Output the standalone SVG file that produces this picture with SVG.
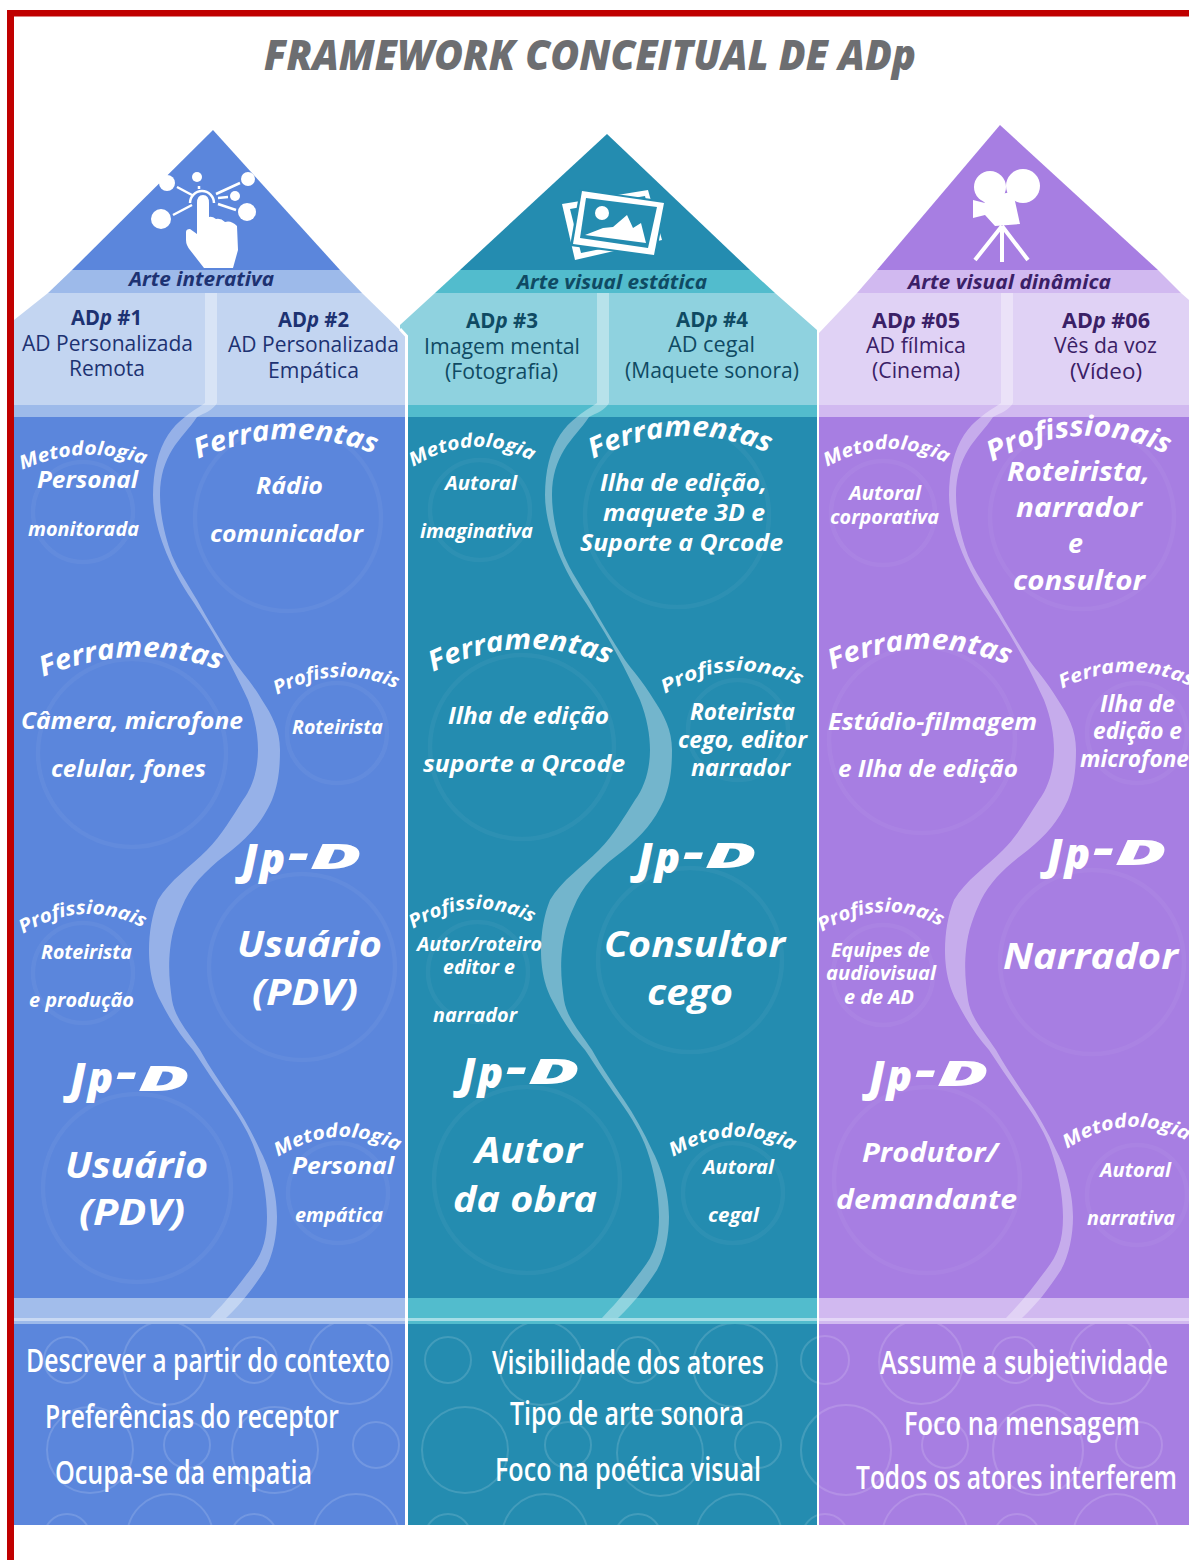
<svg xmlns="http://www.w3.org/2000/svg" width="1189" height="1560" viewBox="0 0 1189 1560">
<style>
text{font-family:"Open Sans","Noto Sans",sans-serif}
.b{font-weight:700;font-style:italic;fill:#fff}
.h{font-weight:400;font-size:21px}
.t{font-weight:700;font-size:21px}
.bar{font-weight:700;font-style:italic;font-size:19px}
.n1{fill:#1d3272}.n2{fill:#0f4a63}.n3{fill:#3a2066}
.f{font-weight:600;fill:#fff;font-size:33px}
.s19{font-size:19px}.s23{font-size:23px}.s26{font-size:26px}.s36{font-size:36px}
.abig{font-size:28px}.asm{font-size:19px}
.jp{font-size:42px;font-weight:800}.jd{font-size:36px}
.ring{fill:none;stroke:#fff;stroke-opacity:.045;stroke-width:4.5}
.rib{fill:#fff;fill-opacity:.36}
.bub{fill:none;stroke:#fff;stroke-opacity:.14;stroke-width:2}
.wl{stroke:#fff;stroke-width:3;fill:none}
</style>
<defs>
<path id="ribbon" d="M205 293L205 403C190 413 178 420 168 435C158 450 153 472 153 495C153 525 168 565 192 600C205 620 225 650 248 700C255 718 258 735 258 750C258 770 252 788 243 800C232 817 222 835 207 850C190 867 170 880 158 900C152 915 149 932 149 950C149 975 155 990 160 1000C170 1020 180 1035 193 1050C205 1068 215 1083 227 1100C240 1118 250 1135 255 1150C262 1170 267 1195 267 1217C267 1240 262 1255 250 1270C240 1283 232 1295 210 1318L226 1318C240 1305 252 1290 265 1270C273 1255 277 1235 277 1217C277 1190 268 1165 260 1150C252 1132 242 1115 232 1100C220 1082 210 1068 200 1050C188 1032 175 1018 172 1000C170 985 168 970 170 950C172 930 178 915 185 900C195 880 212 865 232 850C250 835 262 822 272 800C278 785 280 770 280 750C280 730 272 715 262 700C250 680 240 670 233 660C220 640 208 620 197 600C185 580 175 565 170 550C165 535 160 515 160 495C160 475 165 462 172 450C180 437 190 428 197 417C205 413 213 410 217 403L217 293Z"/>
<clipPath id="bubClip"><rect x="14" y="1324" width="1175" height="201"/></clipPath>
<path id="a1" d="M198 459Q287 421.500 375 454"/>
<path id="a2" d="M43 677Q132 640.500 220 670"/>
<path id="a3" d="M593 459Q682 415.500 770 454"/>
<path id="a4" d="M433 672Q522 629.500 610 665"/>
<path id="a5" d="M992 462Q1080 413.500 1168 455"/>
<path id="a6" d="M832 670Q920 630.500 1008 665"/>
<path id="a7" d="M22 470Q84 442.500 145 465"/>
<path id="a8" d="M277 695Q337 662 397 689"/>
<path id="a9" d="M23 934Q84 896.500 145 929"/>
<path id="a10" d="M278 1157Q338 1119.500 399 1152"/>
<path id="a11" d="M413 467Q474 429.500 534 462"/>
<path id="a12" d="M665 694Q734 651.500 803 687"/>
<path id="a13" d="M413 929Q474 891.500 534 924"/>
<path id="a14" d="M673 1157Q734 1119.500 795 1152"/>
<path id="a15" d="M827 467Q888 432.500 948 464"/>
<path id="a16" d="M1062 689Q1127 656 1192 687"/>
<path id="a17" d="M822 932Q882 894.500 942 927"/>
<path id="a18" d="M1067 1149Q1128 1108.500 1189 1142"/>
</defs>
<rect width="1189" height="1560" fill="#fff"/>
<g id="moldura"><rect x="7" y="10" width="7" height="1550" fill="#c00000"/><rect x="7" y="10" width="1182" height="6.500" fill="#c00000"/></g>
<text id="titulo" x="264" y="70" font-size="42" font-weight="800" font-style="italic" fill="#6d6e71" textLength="652" lengthAdjust="spacingAndGlyphs">FRAMEWORK CONCEITUAL DE ADp</text>

<g id="coluna-1">
<polygon points="48,293 362,293 405,335 405,405 14,405 14,320" fill="#c3d5f1"/>
<polygon points="72,270 340,270 362,293 48,293" fill="#9dbaea"/>
<polygon points="213,130 72,270 340,270" fill="#5b86dc"/>
<rect x="14" y="405" width="391" height="12" fill="#9dbaea"/>
<rect x="14" y="417" width="391" height="881" fill="#5b86dc"/>
<rect x="14" y="1298" width="391" height="20" fill="#a2bdeb"/>
<rect x="14" y="1318" width="391" height="3" fill="#c9d9f3"/>
<rect x="14" y="1321" width="391" height="3" fill="#9dbaea"/>
<rect x="14" y="1324" width="391" height="201" fill="#5b86dc"/>
<use href="#ribbon" class="rib"/>
<g id="icone-interativa" fill="#fff">
<circle cx="167" cy="183" r="8"/><circle cx="197" cy="177" r="5"/><circle cx="248" cy="179" r="7"/><circle cx="235" cy="196" r="5"/><circle cx="161" cy="219" r="10"/><circle cx="247" cy="212" r="9"/>
<path d="M177 187L192 195M199 186L199 189M216 194L240 183M218 198L228 197M218 204L236 210M173 215L192 205M190 203A12 12 0 0 1 214 203" stroke="#fff" stroke-width="2.500" fill="none"/>
<path d="M197 203Q197 195 203 195Q209 195 209 203L209 217Q212 216 216 219Q221 218 225 222Q231 220 237 226L238 250L233 268L204 268L190 250Q186 245 186 240L186 232Q186 229 190 229L197 234Z"/>
</g>
<g id="c1-cabecalho">
<text class="bar n1" x="129" y="286" textLength="145" lengthAdjust="spacingAndGlyphs">Arte interativa</text>
<text class="t n1" x="71" y="325" textLength="71" lengthAdjust="spacingAndGlyphs">AD<tspan font-style="italic">p</tspan> #1</text>
<text class="h n1" x="22" y="351" textLength="171" lengthAdjust="spacingAndGlyphs">AD Personalizada</text>
<text class="h n1" x="69" y="376" textLength="76" lengthAdjust="spacingAndGlyphs">Remota</text>
<text class="t n1" x="278" y="327" textLength="71" lengthAdjust="spacingAndGlyphs">AD<tspan font-style="italic">p</tspan> #2</text>
<text class="h n1" x="228" y="352" textLength="171" lengthAdjust="spacingAndGlyphs">AD Personalizada</text>
<text class="h n1" x="268" y="378" textLength="91" lengthAdjust="spacingAndGlyphs">Empática</text>
</g>
<g id="c1-metodologia-a"><circle class="ring" cx="83" cy="512" r="50"/>
<text class="b asm"><textPath href="#a7" textLength="126" lengthAdjust="spacingAndGlyphs">Metodologia</textPath></text>
<text class="b s23" x="37" y="488" textLength="101" lengthAdjust="spacingAndGlyphs">Personal</text>
<text class="b s19" x="28" y="536" textLength="111" lengthAdjust="spacingAndGlyphs">monitorada</text></g>
<g id="c1-ferramentas-a"><circle class="ring" cx="288" cy="518" r="93"/>
<text class="b abig"><textPath href="#a1" textLength="181" lengthAdjust="spacingAndGlyphs">Ferramentas</textPath></text>
<text class="b s23" x="256" y="494" textLength="67" lengthAdjust="spacingAndGlyphs">Rádio</text>
<text class="b s23" x="210" y="542" textLength="153" lengthAdjust="spacingAndGlyphs">comunicador</text></g>
<g id="c1-ferramentas-b"><circle class="ring" cx="132" cy="753" r="94"/>
<text class="b abig"><textPath href="#a2" textLength="181" lengthAdjust="spacingAndGlyphs">Ferramentas</textPath></text>
<text class="b s23" x="21" y="729" textLength="222" lengthAdjust="spacingAndGlyphs">Câmera, microfone</text>
<text class="b s23" x="51" y="777" textLength="155" lengthAdjust="spacingAndGlyphs">celular, fones</text></g>
<g id="c1-profissionais-a"><circle class="ring" cx="337" cy="733" r="50"/>
<text class="b asm"><textPath href="#a8" textLength="124" lengthAdjust="spacingAndGlyphs">Profissionais</textPath></text>
<text class="b s19" x="292" y="734" textLength="91" lengthAdjust="spacingAndGlyphs">Roteirista</text></g>
<g id="c1-jpd-a"><circle class="ring" cx="302" cy="967" r="93"/>
<text class="b jp" x="242" y="874" letter-spacing="2">Jp<tspan x="288" y="868" textLength="24" lengthAdjust="spacingAndGlyphs">-</tspan><tspan class="jd" x="310" y="869" textLength="56" lengthAdjust="spacingAndGlyphs">D</tspan></text>
<text class="b s36" x="237" y="957" textLength="145" lengthAdjust="spacingAndGlyphs">Usuário</text>
<text class="b s36" x="252" y="1005" textLength="106" lengthAdjust="spacingAndGlyphs">(PDV)</text></g>
<g id="c1-profissionais-b"><circle class="ring" cx="83" cy="973" r="50"/>
<text class="b asm"><textPath href="#a9" textLength="126" lengthAdjust="spacingAndGlyphs">Profissionais</textPath></text>
<text class="b s19" x="41" y="959" textLength="91" lengthAdjust="spacingAndGlyphs">Roteirista</text>
<text class="b s19" x="29" y="1007" textLength="105" lengthAdjust="spacingAndGlyphs">e produção</text></g>
<g id="c1-jpd-b"><circle class="ring" cx="137" cy="1188" r="94"/>
<text class="b jp" x="70" y="1093" letter-spacing="2">Jp<tspan x="116" y="1087" textLength="24" lengthAdjust="spacingAndGlyphs">-</tspan><tspan class="jd" x="138" y="1091" textLength="56" lengthAdjust="spacingAndGlyphs">D</tspan></text>
<text class="b s36" x="65" y="1178" textLength="143" lengthAdjust="spacingAndGlyphs">Usuário</text>
<text class="b s36" x="79" y="1225" textLength="106" lengthAdjust="spacingAndGlyphs">(PDV)</text></g>
<g id="c1-metodologia-b"><circle class="ring" cx="338" cy="1193" r="50"/>
<text class="b asm"><textPath href="#a10" textLength="126" lengthAdjust="spacingAndGlyphs">Metodologia</textPath></text>
<text class="b s23" x="292" y="1174" textLength="102" lengthAdjust="spacingAndGlyphs">Personal</text>
<text class="b s19" x="295" y="1222" textLength="88" lengthAdjust="spacingAndGlyphs">empática</text></g>
<g id="c1-rodape">
<text class="f" x="26" y="1372" textLength="364" lengthAdjust="spacingAndGlyphs">Descrever a partir do contexto</text>
<text class="f" x="45" y="1428" textLength="294" lengthAdjust="spacingAndGlyphs">Preferências do receptor</text>
<text class="f" x="55" y="1484" textLength="257" lengthAdjust="spacingAndGlyphs">Ocupa-se da empatia</text>
</g>
</g>

<g id="coluna-2">
<polygon points="435,293 775,293 817,330 817,405 408,405 408,337 400,329 400,325" fill="#8fd2df"/>
<polygon points="460,270 750,270 775,293 435,293" fill="#52bccd"/>
<polygon points="607,134 460,270 750,270" fill="#248cb0"/>
<rect x="408" y="405" width="409" height="12" fill="#52bccd"/>
<rect x="408" y="417" width="409" height="881" fill="#248cb0"/>
<rect x="408" y="1298" width="409" height="20" fill="#52bccd"/>
<rect x="408" y="1318" width="409" height="3" fill="#a5dde6"/>
<rect x="408" y="1321" width="409" height="3" fill="#52bccd"/>
<rect x="408" y="1324" width="409" height="201" fill="#248cb0"/>
<use href="#ribbon" x="392" class="rib"/>
<g id="icone-fotos">
<polygon points="562,204 648,190 662,240 575,260" fill="#fff"/>
<polygon points="570,209 645,196 655,238 581,253" fill="#248cb0"/>
<polygon points="580,189 666,201 656,257 570,246" fill="#248cb0"/>
<polygon points="582,191 664,203 654,255 573,244" fill="#fff"/>
<polygon points="586,198 657,207 648,248 580,238" fill="#248cb0"/>
<circle cx="602" cy="213" r="7" fill="#fff"/>
<polygon points="585,235 603,228 613,227 627,215 633,228 641,223 646,243" fill="#fff"/>
</g>
<g id="c2-cabecalho">
<text class="bar n2" x="517" y="289" textLength="190" lengthAdjust="spacingAndGlyphs">Arte visual estática</text>
<text class="t n2" x="466" y="328" textLength="72" lengthAdjust="spacingAndGlyphs">AD<tspan font-style="italic">p</tspan> #3</text>
<text class="h n2" x="424" y="354" textLength="156" lengthAdjust="spacingAndGlyphs">Imagem mental</text>
<text class="h n2" x="445" y="379" textLength="113" lengthAdjust="spacingAndGlyphs">(Fotografia)</text>
<text class="t n2" x="676" y="327" textLength="72" lengthAdjust="spacingAndGlyphs">AD<tspan font-style="italic">p</tspan> #4</text>
<text class="h n2" x="668" y="352" textLength="87" lengthAdjust="spacingAndGlyphs">AD cegal</text>
<text class="h n2" x="625" y="378" textLength="174" lengthAdjust="spacingAndGlyphs">(Maquete sonora)</text>
</g>
<g id="c2-metodologia-a"><circle class="ring" cx="480" cy="510" r="50"/>
<text class="b asm"><textPath href="#a11" textLength="125" lengthAdjust="spacingAndGlyphs">Metodologia</textPath></text>
<text class="b s19" x="445" y="490" textLength="72" lengthAdjust="spacingAndGlyphs">Autoral</text>
<text class="b s19" x="420" y="538" textLength="113" lengthAdjust="spacingAndGlyphs">imaginativa</text></g>
<g id="c2-ferramentas-a"><circle class="ring" cx="677" cy="515" r="92"/>
<text class="b abig"><textPath href="#a3" textLength="181" lengthAdjust="spacingAndGlyphs">Ferramentas</textPath></text>
<text class="b s23" x="600" y="491" textLength="167" lengthAdjust="spacingAndGlyphs">Ilha de edição,</text>
<text class="b s23" x="603" y="521" textLength="162" lengthAdjust="spacingAndGlyphs">maquete 3D e</text>
<text class="b s23" x="580" y="551" textLength="203" lengthAdjust="spacingAndGlyphs">Suporte a Qrcode</text></g>
<g id="c2-ferramentas-b"><circle class="ring" cx="522" cy="747" r="92"/>
<text class="b abig"><textPath href="#a4" textLength="181" lengthAdjust="spacingAndGlyphs">Ferramentas</textPath></text>
<text class="b s23" x="448" y="724" textLength="161" lengthAdjust="spacingAndGlyphs">Ilha de edição</text>
<text class="b s23" x="423" y="772" textLength="202" lengthAdjust="spacingAndGlyphs">suporte a Qrcode</text></g>
<g id="c2-profissionais-a"><circle class="ring" cx="738" cy="730" r="50"/>
<text class="b asm"><textPath href="#a12" textLength="142" lengthAdjust="spacingAndGlyphs">Profissionais</textPath></text>
<text class="b s23" x="690" y="720" textLength="105" lengthAdjust="spacingAndGlyphs">Roteirista</text>
<text class="b s23" x="678" y="748" textLength="129" lengthAdjust="spacingAndGlyphs">cego, editor</text>
<text class="b s23" x="691" y="776" textLength="99" lengthAdjust="spacingAndGlyphs">narrador</text></g>
<g id="c2-jpd-a"><circle class="ring" cx="690" cy="960" r="92"/>
<text class="b jp" x="637" y="873" letter-spacing="2">Jp<tspan x="683" y="867" textLength="24" lengthAdjust="spacingAndGlyphs">-</tspan><tspan class="jd" x="705" y="868" textLength="56" lengthAdjust="spacingAndGlyphs">D</tspan></text>
<text class="b s36" x="604" y="957" textLength="181" lengthAdjust="spacingAndGlyphs">Consultor</text>
<text class="b s36" x="647" y="1005" textLength="86" lengthAdjust="spacingAndGlyphs">cego</text></g>
<g id="c2-profissionais-b"><circle class="ring" cx="478" cy="972" r="50"/>
<text class="b asm"><textPath href="#a13" textLength="125" lengthAdjust="spacingAndGlyphs">Profissionais</textPath></text>
<text class="b s19" x="417" y="951" textLength="125" lengthAdjust="spacingAndGlyphs">Autor/roteiro</text>
<text class="b s19" x="443" y="974" textLength="72" lengthAdjust="spacingAndGlyphs">editor e</text>
<text class="b s19" x="433" y="1022" textLength="84" lengthAdjust="spacingAndGlyphs">narrador</text></g>
<g id="c2-jpd-b"><circle class="ring" cx="527" cy="1180" r="93"/>
<text class="b jp" x="460" y="1088" letter-spacing="2">Jp<tspan x="506" y="1082" textLength="24" lengthAdjust="spacingAndGlyphs">-</tspan><tspan class="jd" x="528" y="1084" textLength="56" lengthAdjust="spacingAndGlyphs">D</tspan></text>
<text class="b s36" x="475" y="1163" textLength="107" lengthAdjust="spacingAndGlyphs">Autor</text>
<text class="b s36" x="453" y="1212" textLength="144" lengthAdjust="spacingAndGlyphs">da obra</text></g>
<g id="c2-metodologia-b"><circle class="ring" cx="733" cy="1193" r="50"/>
<text class="b asm"><textPath href="#a14" textLength="126" lengthAdjust="spacingAndGlyphs">Metodologia</textPath></text>
<text class="b s19" x="703" y="1174" textLength="71" lengthAdjust="spacingAndGlyphs">Autoral</text>
<text class="b s19" x="708" y="1222" textLength="51" lengthAdjust="spacingAndGlyphs">cegal</text></g>
<g id="c2-rodape">
<text class="f" x="492" y="1374" textLength="272" lengthAdjust="spacingAndGlyphs">Visibilidade dos atores</text>
<text class="f" x="510" y="1425" textLength="234" lengthAdjust="spacingAndGlyphs">Tipo de arte sonora</text>
<text class="f" x="495" y="1481" textLength="266" lengthAdjust="spacingAndGlyphs">Foco na poética visual</text>
</g>
</g>

<g id="coluna-3">
<polygon points="857,293 1189,293 1189,298 1189,405 819,405 819,333" fill="#e0d2f5"/>
<polygon points="877,270 1158,270 1181,293 857,293" fill="#d1b9f0"/>
<polygon points="1000,125 877,270 1158,270" fill="#a77ee2"/>
<polygon points="1181,293 1189,293 1189,300" fill="#fff"/>
<rect x="819" y="405" width="370" height="12" fill="#d1b9f0"/>
<rect x="819" y="417" width="370" height="881" fill="#a77ee2"/>
<rect x="819" y="1298" width="370" height="20" fill="#d1b9f0"/>
<rect x="819" y="1318" width="370" height="3" fill="#e4d6f7"/>
<rect x="819" y="1321" width="370" height="3" fill="#d1b9f0"/>
<rect x="819" y="1324" width="370" height="201" fill="#a77ee2"/>
<use href="#ribbon" x="796" class="rib"/>
<g id="icone-camera" fill="#fff">
<circle cx="990" cy="187" r="16"/><circle cx="1023" cy="186" r="17"/>
<polygon points="980,197 1013,192 1020,224 995,226 985,215 973,218 973,200 985,203"/>
<path d="M1002 226L975 260M1002 226L1002 262M1002 226L1028 260" stroke="#fff" stroke-width="4" fill="none"/>
</g>
<g id="c3-cabecalho">
<text class="bar n3" x="908" y="289" textLength="203" lengthAdjust="spacingAndGlyphs">Arte visual dinâmica</text>
<text class="t n3" x="872" y="328" textLength="88" lengthAdjust="spacingAndGlyphs">AD<tspan font-style="italic">p</tspan> #05</text>
<text class="h n3" x="866" y="353" textLength="100" lengthAdjust="spacingAndGlyphs">AD fílmica</text>
<text class="h n3" x="872" y="378" textLength="88" lengthAdjust="spacingAndGlyphs">(Cinema)</text>
<text class="t n3" x="1062" y="328" textLength="88" lengthAdjust="spacingAndGlyphs">AD<tspan font-style="italic">p</tspan> #06</text>
<text class="h n3" x="1054" y="353" textLength="103" lengthAdjust="spacingAndGlyphs">Vês da voz</text>
<text class="h n3" x="1070" y="379" textLength="72" lengthAdjust="spacingAndGlyphs">(Vídeo)</text>
</g>
<g id="c3-metodologia-a"><circle class="ring" cx="883" cy="513" r="52"/>
<text class="b asm"><textPath href="#a15" textLength="125" lengthAdjust="spacingAndGlyphs">Metodologia</textPath></text>
<text class="b s19" x="849" y="500" textLength="72" lengthAdjust="spacingAndGlyphs">Autoral</text>
<text class="b s19" x="830" y="524" textLength="109" lengthAdjust="spacingAndGlyphs">corporativa</text></g>
<g id="c3-profissionais-a"><circle class="ring" cx="1082" cy="517" r="92"/>
<text class="b abig"><textPath href="#a5" textLength="182" lengthAdjust="spacingAndGlyphs">Profissionais</textPath></text>
<text class="b s26" x="1007" y="481" textLength="143" lengthAdjust="spacingAndGlyphs">Roteirista,</text>
<text class="b s26" x="1016" y="517" textLength="126" lengthAdjust="spacingAndGlyphs">narrador</text>
<text class="b s26" x="1068" y="553" textLength="15" lengthAdjust="spacingAndGlyphs">e</text>
<text class="b s26" x="1013" y="590" textLength="132" lengthAdjust="spacingAndGlyphs">consultor</text></g>
<g id="c3-ferramentas-a"><circle class="ring" cx="922" cy="740" r="93"/>
<text class="b abig"><textPath href="#a6" textLength="181" lengthAdjust="spacingAndGlyphs">Ferramentas</textPath></text>
<text class="b s23" x="828" y="730" textLength="209" lengthAdjust="spacingAndGlyphs">Estúdio-filmagem</text>
<text class="b s23" x="838" y="777" textLength="180" lengthAdjust="spacingAndGlyphs">e Ilha de edição</text></g>
<g id="c3-ferramentas-b"><circle class="ring" cx="1137" cy="733" r="50"/>
<text class="b asm"><textPath href="#a16" textLength="134" lengthAdjust="spacingAndGlyphs">Ferramentas</textPath></text>
<text class="b s23" x="1100" y="712" textLength="75" lengthAdjust="spacingAndGlyphs">Ilha de</text>
<text class="b s23" x="1093" y="739" textLength="89" lengthAdjust="spacingAndGlyphs">edição e</text>
<text class="b s23" x="1080" y="767" textLength="109" lengthAdjust="spacingAndGlyphs">microfone</text></g>
<g id="c3-jpd-a"><circle class="ring" cx="1092" cy="962" r="92"/>
<text class="b jp" x="1047" y="869" letter-spacing="2">Jp<tspan x="1093" y="863" textLength="24" lengthAdjust="spacingAndGlyphs">-</tspan><tspan class="jd" x="1115" y="865" textLength="56" lengthAdjust="spacingAndGlyphs">D</tspan></text>
<text class="b s36" x="1003" y="969" textLength="175" lengthAdjust="spacingAndGlyphs">Narrador</text></g>
<g id="c3-profissionais-b"><circle class="ring" cx="883" cy="975" r="50"/>
<text class="b asm"><textPath href="#a17" textLength="125" lengthAdjust="spacingAndGlyphs">Profissionais</textPath></text>
<text class="b s19" x="831" y="957" textLength="99" lengthAdjust="spacingAndGlyphs">Equipes de</text>
<text class="b s19" x="826" y="980" textLength="110" lengthAdjust="spacingAndGlyphs">audiovisual</text>
<text class="b s19" x="844" y="1004" textLength="70" lengthAdjust="spacingAndGlyphs">e de AD</text></g>
<g id="c3-jpd-b"><circle class="ring" cx="927" cy="1180" r="93"/>
<text class="b jp" x="869" y="1091" letter-spacing="2">Jp<tspan x="915" y="1085" textLength="24" lengthAdjust="spacingAndGlyphs">-</tspan><tspan class="jd" x="937" y="1086" textLength="56" lengthAdjust="spacingAndGlyphs">D</tspan></text>
<text class="b s26" x="862" y="1162" textLength="136" lengthAdjust="spacingAndGlyphs">Produtor/</text>
<text class="b s26" x="836" y="1209" textLength="181" lengthAdjust="spacingAndGlyphs">demandante</text></g>
<g id="c3-metodologia-b"><circle class="ring" cx="1137" cy="1195" r="50"/>
<text class="b asm"><textPath href="#a18" textLength="127" lengthAdjust="spacingAndGlyphs">Metodologia</textPath></text>
<text class="b s19" x="1100" y="1177" textLength="71" lengthAdjust="spacingAndGlyphs">Autoral</text>
<text class="b s19" x="1087" y="1225" textLength="88" lengthAdjust="spacingAndGlyphs">narrativa</text></g>
<g id="c3-rodape">
<text class="f" x="880" y="1374" textLength="288" lengthAdjust="spacingAndGlyphs">Assume a subjetividade</text>
<text class="f" x="904" y="1435" textLength="236" lengthAdjust="spacingAndGlyphs">Foco na mensagem</text>
<text class="f" x="856" y="1489" textLength="321" lengthAdjust="spacingAndGlyphs">Todos os atores interferem</text>
</g>
</g>

<g id="bolhas" clip-path="url(#bubClip)">
<circle class="bub" cx="165" cy="1363" r="42"/><circle class="bub" cx="350" cy="1362" r="42"/><circle class="bub" cx="67" cy="1360" r="23"/><circle class="bub" cx="254" cy="1360" r="23"/>
<circle class="bub" cx="90" cy="1450" r="43"/><circle class="bub" cx="275" cy="1450" r="43"/><circle class="bub" cx="187" cy="1445" r="23"/><circle class="bub" cx="376" cy="1445" r="23"/>
<circle class="bub" cx="170" cy="1537" r="43"/><circle class="bub" cx="356" cy="1537" r="43"/><circle class="bub" cx="67" cy="1537" r="23"/><circle class="bub" cx="254" cy="1537" r="23"/>
<circle class="bub" cx="541" cy="1363" r="42"/><circle class="bub" cx="735" cy="1365" r="42"/><circle class="bub" cx="448" cy="1360" r="23"/><circle class="bub" cx="638" cy="1360" r="23"/>
<circle class="bub" cx="465" cy="1450" r="43"/><circle class="bub" cx="660" cy="1453" r="43"/><circle class="bub" cx="568" cy="1445" r="23"/><circle class="bub" cx="758" cy="1445" r="23"/>
<circle class="bub" cx="545" cy="1537" r="43"/><circle class="bub" cx="739" cy="1537" r="43"/><circle class="bub" cx="448" cy="1537" r="23"/><circle class="bub" cx="638" cy="1537" r="23"/>
<circle class="bub" cx="825" cy="1360" r="24"/><circle class="bub" cx="921" cy="1362" r="42"/><circle class="bub" cx="1111" cy="1362" r="42"/><circle class="bub" cx="1015" cy="1360" r="23"/>
<circle class="bub" cx="846" cy="1450" r="45"/><circle class="bub" cx="945" cy="1445" r="23"/><circle class="bub" cx="1038" cy="1450" r="45"/><circle class="bub" cx="1139" cy="1445" r="23"/>
<circle class="bub" cx="825" cy="1537" r="23"/><circle class="bub" cx="925" cy="1537" r="43"/><circle class="bub" cx="1017" cy="1537" r="23"/><circle class="bub" cx="1116" cy="1537" r="43"/>
</g>
<g id="divisores">
<path class="wl" d="M400 329L406.500 336L406.500 1525"/>
<path d="M818 335L818 1525" stroke="#fff" stroke-width="2" fill="none"/>
</g>
</svg>
